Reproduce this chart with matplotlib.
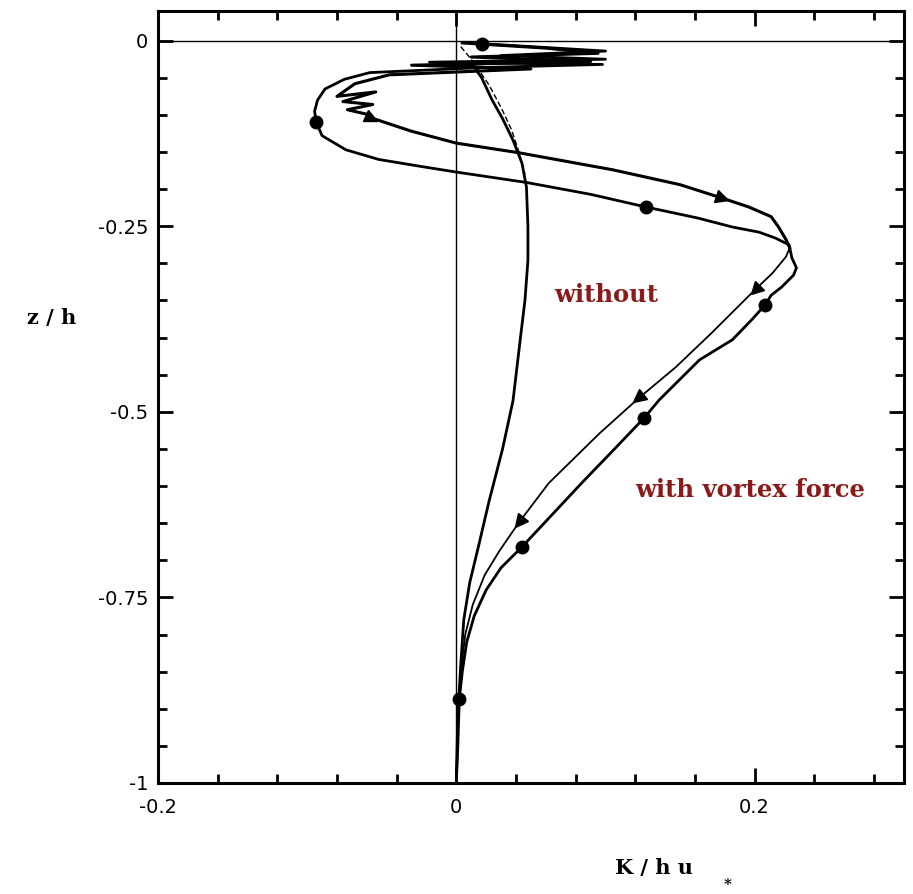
import matplotlib
matplotlib.use("Agg")
import matplotlib.pyplot as plt
from matplotlib.markers import MarkerStyle
from matplotlib.transforms import Affine2D
import numpy as np

plt.rcParams['axes.unicode_minus'] = False

# ---- data: circle series (with vortex force, thick) ----
circ_K = [0.017, 0.100, 0.030, 0.100, -0.018, 0.098, 0.020, -0.058, -0.075, -0.088,
          -0.093, -0.095, -0.094, -0.090, -0.074, -0.052, -0.025, 0.000, 0.047, 0.090,
          0.127, 0.162, 0.185, 0.203, 0.214, 0.223, 0.225, 0.228, 0.226, 0.218,
          0.211, 0.207, 0.198, 0.185, 0.163, 0.136, 0.126, 0.107, 0.084, 0.044,
          0.030, 0.020, 0.012, 0.007, 0.004, 0.002, 0.001, 0.000]
circ_z = [-0.004, -0.014, -0.020, -0.025, -0.029, -0.032, -0.036, -0.043, -0.052, -0.065,
          -0.080, -0.095, -0.109, -0.128, -0.147, -0.160, -0.169, -0.177, -0.191, -0.207,
          -0.224, -0.239, -0.251, -0.258, -0.266, -0.275, -0.293, -0.306, -0.316, -0.332,
          -0.343, -0.356, -0.376, -0.403, -0.430, -0.484, -0.508, -0.548, -0.596, -0.682,
          -0.710, -0.740, -0.775, -0.810, -0.850, -0.887, -0.950, -1.000]
circ_mark_K = [0.017, -0.094, 0.127, 0.207, 0.126, 0.044, 0.002]
circ_mark_z = [-0.004, -0.109, -0.224, -0.356, -0.508, -0.682, -0.887]

# ---- data: triangle series (with vortex force, thin) ----
tri_K = [0.004, 0.060, 0.095, 0.010, 0.090, -0.030, 0.050, -0.045, -0.068, -0.080,
         -0.054, -0.076, -0.056, -0.073, -0.058, -0.057, -0.030, 0.000, 0.042, 0.105,
         0.150, 0.178, 0.196, 0.211, 0.216, 0.221, 0.2235, 0.221, 0.212, 0.200,
         0.180, 0.171, 0.147, 0.122, 0.096, 0.062, 0.042, 0.029, 0.019, 0.011,
         0.006, 0.003, 0.001, 0.000]
tri_z = [-0.003, -0.010, -0.017, -0.022, -0.028, -0.033, -0.038, -0.046, -0.058, -0.075,
         -0.069, -0.082, -0.086, -0.093, -0.100, -0.104, -0.122, -0.138, -0.151, -0.174,
         -0.194, -0.212, -0.224, -0.237, -0.251, -0.268, -0.279, -0.291, -0.313, -0.336,
         -0.376, -0.394, -0.440, -0.482, -0.529, -0.596, -0.649, -0.687, -0.720, -0.760,
         -0.800, -0.850, -0.920, -1.000]
tri_mark_K = [-0.057, 0.178, 0.200, 0.122, 0.042]
tri_mark_z = [-0.104, -0.212, -0.336, -0.482, -0.649]
tri_mark_angle = [-25, -20, 225, 220, 231]

# ---- data: without vortex force ----
wo_K = [0.010, 0.017, 0.024, 0.031, 0.038, 0.044, 0.047, 0.048, 0.048, 0.046,
        0.043, 0.038, 0.031, 0.022, 0.015, 0.009, 0.005, 0.003, 0.001, 0.000]
wo_z = [-0.030, -0.050, -0.080, -0.105, -0.134, -0.165, -0.197, -0.250, -0.296, -0.350,
        -0.400, -0.485, -0.550, -0.620, -0.680, -0.730, -0.780, -0.840, -0.910, -1.000]
wo2_K = [0.003, 0.012, 0.022, 0.030, 0.037, 0.042, 0.046]
wo2_z = [-0.008, -0.030, -0.060, -0.090, -0.120, -0.150, -0.180]

x_ticks = [-0.2, 0.0, 0.2]
x_ticklabels = ['-0.2', '0', '0.2']
y_ticks = [0.0, -0.25, -0.5, -0.75, -1.0]
y_ticklabels = ['0', '-0.25', '-0.5', '-0.75', '-1']

fig = plt.figure(figsize=(9.13, 8.94), dpi=100)
ax = fig.add_axes([0.173, 0.1242, 0.990 - 0.173, 0.9877 - 0.1242])
ax.set_xlim(-0.2, 0.3)
ax.set_ylim(-1.0, 0.04)

ax.axhline(0, color='black', lw=1.0, zorder=1)
ax.axvline(0, color='black', lw=1.0, zorder=1)

ax.plot(wo_K, wo_z, color='black', lw=2.0, zorder=3)
ax.plot(wo2_K, wo2_z, color='black', lw=1.0, ls=(0, (4, 2)), zorder=3)

ax.plot(tri_K, tri_z, color='black', lw=1.3, zorder=3)
ax.plot(tri_K[:27], tri_z[:27], color='black', lw=2.2, zorder=3)
for k, z, a in zip(tri_mark_K, tri_mark_z, tri_mark_angle):
    m = MarkerStyle('>', transform=Affine2D().rotate_deg(a))
    ax.plot([k], [z], marker=m, color='black', ms=9, ls='none', zorder=4)

ax.plot(circ_K, circ_z, color='black', lw=2.0, zorder=3)
ax.plot(circ_mark_K, circ_mark_z, 'o', color='black', ms=9, zorder=4)

red = '#8b1a1a'
ax.text(0.1003, -0.342, 'without', ha='center', va='center', color=red,
        fontsize=17.5, fontweight='bold', family='DejaVu Serif')
ax.text(0.197, -0.605, 'with vortex force', ha='center', va='center', color=red,
        fontsize=17.5, fontweight='bold', family='DejaVu Serif')

ax.set_xticks(x_ticks)
ax.set_xticklabels(x_ticklabels)
ax.set_yticks(y_ticks)
ax.set_yticklabels(y_ticklabels)
ax.set_xticks(np.arange(-0.2, 0.3001, 0.04), minor=True)
ax.set_yticks(np.arange(-1.0, 0.0001, 0.05), minor=True)
ax.tick_params(which='both', direction='in', top=True, right=True, width=2.0)
ax.tick_params(which='major', length=11)
ax.tick_params(which='minor', length=6.5)
ax.tick_params(axis='x', which='major', pad=11, labelsize=14)
ax.tick_params(axis='y', which='major', pad=7, labelsize=14)
for s in ax.spines.values():
    s.set_linewidth(2.2)

fig.text(0.057, 0.644, 'z / h', ha='center', va='center', fontsize=15,
         fontweight='bold', family='DejaVu Serif')
fig.text(0.716, 0.029, 'K / h u', ha='center', va='center', fontsize=15,
         fontweight='bold', family='DejaVu Serif')
fig.text(0.797, 0.010, '*', ha='center', va='center', fontsize=11,
         fontweight='bold', family='DejaVu Serif')

fig.savefig('out.png', dpi=100)
